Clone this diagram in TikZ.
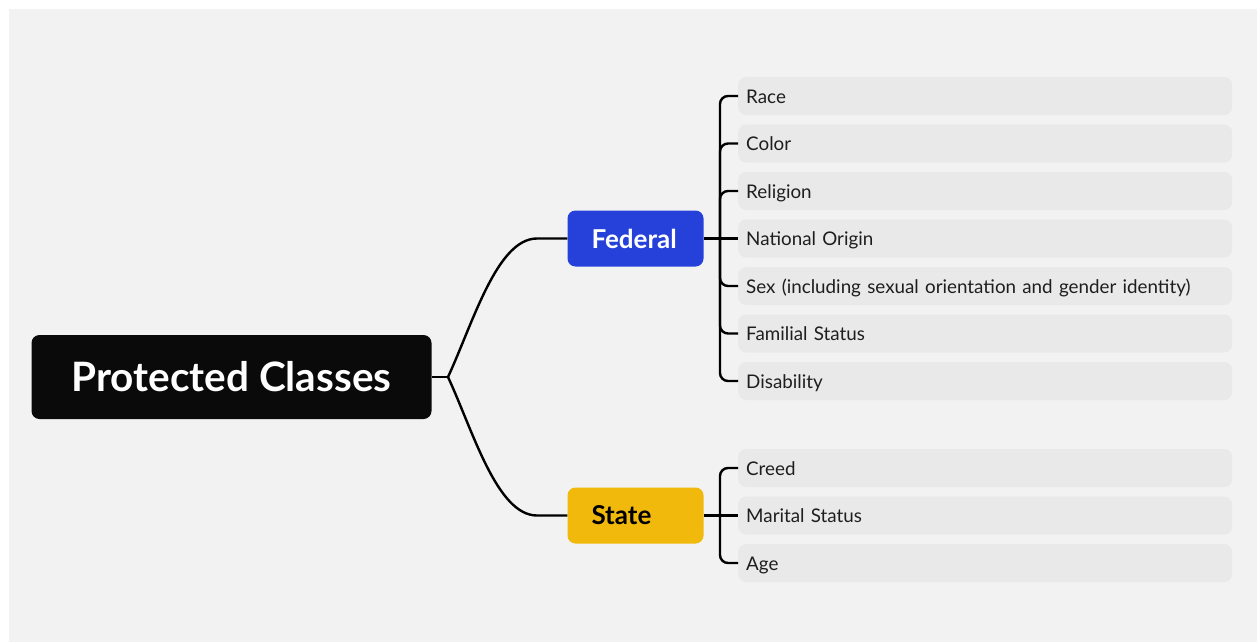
\documentclass[tikz,border=0pt]{standalone}
\usepackage{fontspec}
\setmainfont{Lato}
\begin{document}
\begin{tikzpicture}[x=1pt,y=-1pt,
  rootbox/.style={fill=rootblack, rounded corners=8pt, minimum width=400pt, minimum height=84pt,
    text=white, font=\fontsize{40.5}{43}\selectfont\bfseries},
  groupbox/.style={rounded corners=8pt, minimum height=56pt, text width=88pt, inner xsep=24pt,
    align=left, font=\fontsize{26}{28}\selectfont\bfseries},
  item/.style={fill=itemgray, rounded corners=8pt, anchor=west, minimum height=38pt,
    text width=478pt, inner xsep=8pt, align=left, text height=16pt, text depth=2pt,
    text=itemtext, font=\fontsize{18.8}{21}\selectfont},
  link/.style={draw=black, line width=2.4pt}]
% Define colors
\definecolor{page}{RGB}{242,242,242}
\definecolor{rootblack}{RGB}{10,10,10}
\definecolor{fedblue}{RGB}{37,65,218}
\definecolor{stateyellow}{RGB}{240,185,11}
\definecolor{itemgray}{RGB}{233,233,233}
\definecolor{itemtext}{RGB}{30,30,30}

% Draw page
\useasboundingbox (0,0) rectangle (1257,642);
\fill[page] (9,9) rectangle (1257,642);

% Main topic and branches
\node[rootbox] (root) at (231.5,377) {Protected Classes};
\node[groupbox, fill=fedblue, text=white] (fed) at (635.5,238.5) {Federal};
\node[groupbox, fill=stateyellow, text=black] (state) at (635.5,515.5) {State};

% Federal items
\node[item] (race) at (738,96) {Race};
\node[item] (color) at (738,143.5) {Color};
\node[item] (religion) at (738,191) {Religion};
\node[item] (origin) at (738,238.5) {National Origin};
\node[item] (sex) at (738,286) {Sex (including sexual orientation and gender identity)};
\node[item] (familial) at (738,333.5) {Familial Status};
\node[item] (disability) at (738,381) {Disability};

% State items
\node[item] (creed) at (738,468) {Creed};
\node[item] (marital) at (738,515.5) {Marital Status};
\node[item] (age) at (738,563) {Age};

% Draw curved branches
\coordinate (split) at (448,377);
\coordinate (fedbend) at (537,238.5);
\coordinate (statebend) at (537,515.5);
\draw[link] (root.east) -- (split);
\draw[link] (split) .. controls (473,323) and (497,238.5) .. (fedbend) -- (fed.west);
\draw[link] (split) .. controls (473,431) and (497,515.5) .. (statebend) -- (state.west);

% Draw brackets
\coordinate (fedspine) at (720,238.5);
\coordinate (statespine) at (720,515.5);
\draw[link] (fed.east) -- (fedspine);
\draw[link] (state.east) -- (statespine);
\draw[link, rounded corners=8pt] (fedspine) |- (race.west);
\draw[link, rounded corners=8pt] (fedspine) |- (color.west);
\draw[link, rounded corners=8pt] (fedspine) |- (religion.west);
\draw[link] (fedspine) -- (origin.west);
\draw[link, rounded corners=8pt] (fedspine) |- (sex.west);
\draw[link, rounded corners=8pt] (fedspine) |- (familial.west);
\draw[link, rounded corners=8pt] (fedspine) |- (disability.west);
\draw[link, rounded corners=8pt] (statespine) |- (creed.west);
\draw[link] (statespine) -- (marital.west);
\draw[link, rounded corners=8pt] (statespine) |- (age.west);
\end{tikzpicture}
\end{document}
